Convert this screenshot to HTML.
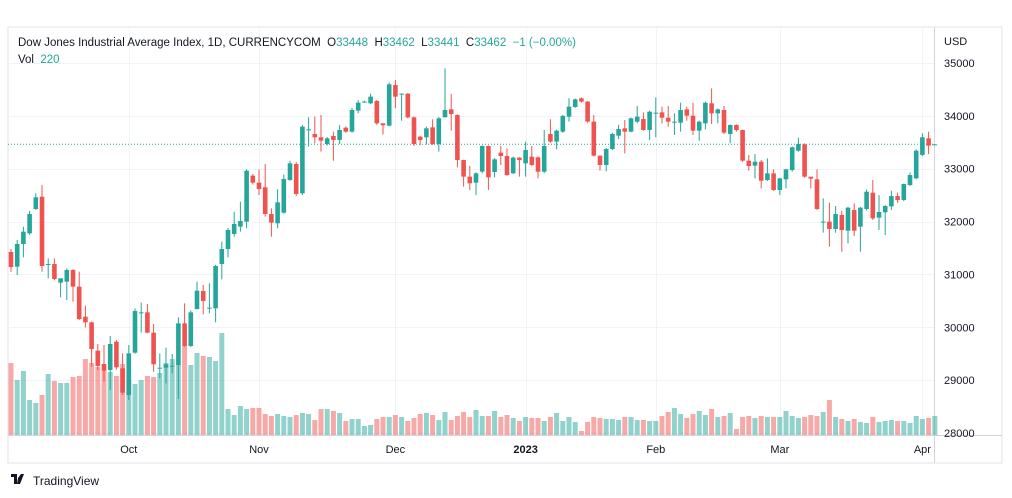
<!DOCTYPE html>
<html><head><meta charset="utf-8">
<style>
body{margin:0;background:#fff;width:1012px;height:498px;overflow:hidden;font-family:"Liberation Sans",sans-serif;}
svg{position:absolute;left:0;top:0}
svg text{white-space:pre}
</style></head>
<body>
<svg id="chart" width="1012" height="498">
  <rect x="8" y="27" width="994" height="436" fill="#fff" stroke="#e0e3eb"/>
  <line x1="934.5" y1="27" x2="934.5" y2="463" stroke="#d1d4dc"/>
  <line x1="8" y1="435.5" x2="1002" y2="435.5" stroke="#d1d4dc"/>
  <g id="grid"></g>
  <g id="vols"></g>
  <g id="candles"></g>
  <g id="yaxis"></g>
  <g id="xaxis"></g>
  <text x="944" y="45" font-size="11" fill="#131722">USD</text>
  <text x="18" y="46" font-size="11.5" fill="#131722">Dow Jones Industrial Average Index, 1D, CURRENCYCOM  O<tspan fill="#26a69a">33448</tspan>  H<tspan fill="#26a69a">33462</tspan>  L<tspan fill="#26a69a">33441</tspan>  C<tspan fill="#26a69a">33462</tspan>  <tspan fill="#26a69a">−1 (−0.00%)</tspan></text>
  <text x="18" y="63" font-size="11.5" fill="#131722">Vol  <tspan fill="#26a69a">220</tspan></text>
  <g>
    <path d="M11 474h6v10h-3v-7h-3z M18 478l3-4h3l-4 10h-3z" fill="#131722"/>
    <text x="33" y="485" font-size="12" fill="#131722">TradingView</text>
  </g>
</svg>
<script>
const opens=[31425,31147,31576,31778,32238,32471,31197,31197,30844,30863,31084,30769,30201,30094,29558,29306,29192,29728,29224,28719,29520,30283,30283,29898,29236,29236,29274,29287,30075,29646,30346,30687,30372,30359,31198,31481,31765,31904,31998,32869,32736,32648,32143,31967,32168,32787,33089,32534,33745,33657,33594,33468,33619,33544,33777,33701,34099,34269,34237,34281,33859,33814,34584,34420,34420,33972,33607,33594,33783,33468,33972,34124,34017,33165,32850,32736,32945,33430,32938,33304,33241,32913,33210,33102,33228,33216,32944,33657,33512,33701,33985,34168,34332,34269,33891,33247,33071,33373,33625,33764,33701,33890,33940,33732,34060,34066,33965,33890,33871,34123,34003,33720,33858,34237,34047,34111,33657,33827,33732,33152,33058,33133,32786,32912,32597,32799,32975,33341,33461,32849,32799,32000,32000,31860,32124,31828,32219,31903,32238,32546,32074,32175,32288,32483,32408,32692,32818,33262,33575,33448];
const highs=[31480,31652,31904,32200,32534,32692,31305,31305,30870,31115,31100,31052,30409,30110,29684,29665,29835,29760,29507,29665,30359,30466,30441,30063,29507,29615,29495,30189,30454,30320,30863,30800,30832,31180,31620,31880,32188,32377,32990,32900,32988,33089,32250,32610,32890,33150,33130,33830,33972,33985,34016,33600,33701,33827,33800,34150,34300,34290,34420,34300,33840,34630,34679,34426,34430,33990,33620,33800,33934,33980,34900,34414,34030,33170,33052,32930,33440,33440,33200,33430,33386,33230,33220,33512,33430,33230,33733,33934,33740,34020,34332,34330,34350,34280,34017,33250,33390,33680,33830,33921,33970,34186,34066,34100,34350,34174,34186,34047,34249,34174,34249,33910,34270,34520,34140,34186,33840,33840,33740,33259,33278,33165,33196,32988,32830,33000,33420,33587,33480,32830,32988,32440,32358,32295,32206,32280,32345,32280,32610,32786,32500,32310,32585,32547,32720,32925,33367,33670,33700,33462];
const lows=[31050,30989,31324,31750,32220,31052,30926,30890,30567,30516,30485,30138,29999,29255,29192,28972,28814,29200,28719,28625,29500,29898,29886,29161,29035,28940,29129,28644,29630,29630,30340,30245,30264,30094,30907,31324,31715,31809,31872,32700,32503,32093,31715,31872,32150,32770,32480,32500,33417,33480,33323,33440,33152,33468,33680,33680,34050,34250,34220,33830,33650,33800,34143,33909,33950,33430,33450,33460,33450,33323,34090,33720,33026,32661,32598,32503,32910,32598,32837,33071,32860,32900,32850,32850,33050,32818,32913,33490,33367,33680,33890,34150,34250,33870,33230,32963,32950,33350,33560,33291,33690,33858,33720,33543,33594,33858,33795,33638,33701,33909,33638,33530,33745,33846,33858,33660,33480,33700,33130,32963,32818,32628,32770,32580,32500,32628,32944,33320,32830,32628,32220,31790,31525,31790,31430,31588,31727,31430,32210,32030,31840,31746,32219,32357,32390,32670,32800,33240,33278,33441];
const closes=[31140,31576,31809,32143,32459,31160,31197,30914,30927,31084,30769,30157,30094,29590,29268,29180,29684,29243,28763,29507,30308,30283,29898,29300,29236,29300,29274,30075,29646,30283,30693,30498,30372,31160,31481,31841,31954,32011,32963,32736,32616,32143,31980,32364,32806,33102,32522,33796,33745,33594,33531,33575,33544,33733,33701,34111,34250,34269,34363,33859,33821,34597,34363,34420,33972,33468,33544,33764,33468,33953,34111,34035,33165,32850,32724,32913,33430,32837,33178,33241,32881,33210,33165,33354,33071,32944,33430,33512,33720,33998,34174,34313,34269,33891,33247,33071,33373,33657,33751,33701,33953,33985,33732,34079,34060,33965,33890,33890,34111,34003,33720,33890,34249,34047,34123,33682,33827,33732,33152,33051,33133,32774,32912,32597,32818,32988,33405,33467,32849,32812,32238,32000,31860,32143,31840,32263,31828,32263,32565,32061,32181,32294,32483,32408,32711,32880,33341,33594,33436,33462];
const volumes=[72,55,64,35,32,40,61,54,52,52,58,59,76,72,68,65,63,59,71,55,51,55,59,58,62,72,76,71,89,70,82,79,78,74,102,26,20,29,26,27,27,21,19,21,19,18,20,22,21,15,26,26,24,22,14,16,16,9,10,16,18,18,20,18,14,17,21,22,20,15,23,15,19,23,18,25,19,19,24,18,20,17,14,18,17,17,14,18,22,14,18,13,4,13,18,17,16,16,15,18,18,15,15,14,14,19,23,27,21,17,21,24,20,26,18,19,22,6,18,19,17,19,18,18,18,24,19,17,18,20,19,23,35,18,16,14,16,13,12,18,13,14,15,14,14,12,19,16,17,19];
const priceTicks=[35000,34000,33000,32000,31000,30000,29000,28000];
const timeTickIdx=[19,40,62,83,104,124,147];
const timeTickLabels=["Oct","Nov","Dec","2023","Feb","Mar","Apr"];
const lastPrice=33462;

const NS="http://www.w3.org/2000/svg";
const xOf=i=>11+i*6.2;
const yOf=p=>63+(35000-p)/1000*52.86;
const yVol=v=>435-v;
function mk(tag,attrs,parent){const e=document.createElementNS(NS,tag);for(const k in attrs)e.setAttribute(k,attrs[k]);parent.appendChild(e);return e;}
const grid=document.getElementById('grid'),yax=document.getElementById('yaxis'),xax=document.getElementById('xaxis');
priceTicks.forEach(p=>{
  const y=Math.round(yOf(p))+0.5;
  const l=mk('line',{x1:8,x2:934,y1:y,y2:y,stroke:'#f0f3fa'},grid);
  
  
  const t=mk('text',{x:944,y:yOf(p)+4,'font-size':11,fill:'#131722'},yax);
  t.textContent=p;
  
  
});
timeTickIdx.forEach((idx,k)=>{
  const x=Math.round(xOf(idx))+0.5;
  const l=mk('line',{x1:x,x2:x,y1:27,y2:435,stroke:'#f0f3fa'},grid);
  
  
  const t=mk('text',{x:xOf(idx),y:453,'font-size':11,fill:'#131722','text-anchor':'middle','font-weight':timeTickLabels[k]==='2023'?'bold':'normal'},xax);
  t.textContent=timeTickLabels[k];
  
  
});
const vg=document.getElementById('vols'),cg=document.getElementById('candles');
closes.forEach((c,i)=>{
  const up=c>=opens[i];
  const x=xOf(i);
  const vb=mk('rect',{x:x-2.5,y:yVol(volumes[i]),width:5,height:435-yVol(volumes[i]),fill:up?'rgba(38,166,154,0.5)':'rgba(239,83,80,0.5)'},vg);
  
  
});
const pl=mk('line',{x1:8,x2:934,y1:yOf(lastPrice),y2:yOf(lastPrice),stroke:'#26a69a','stroke-dasharray':'1 2'},cg);


closes.forEach((c,i)=>{
  const o=opens[i],up=c>=o,col=up?'#26a69a':'#ef5350',x=xOf(i);
  const w=mk('line',{x1:x,x2:x,y1:yOf(highs[i]),y2:yOf(lows[i]),stroke:col,'stroke-width':1},cg);
  
  
  const top=yOf(Math.max(o,c)),bot=yOf(Math.min(o,c));
  const b=mk('rect',{x:x-2.3,y:top,width:4.6,height:Math.max(1,bot-top),fill:col},cg);
  
  
});
</script>
</body></html>
